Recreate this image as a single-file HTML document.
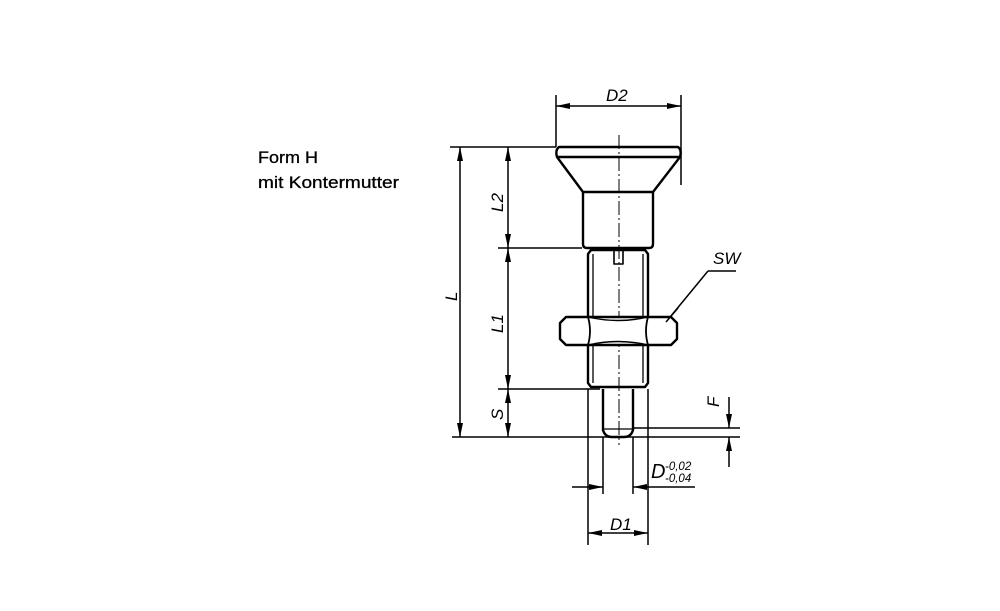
<!DOCTYPE html>
<html><head><meta charset="utf-8"><style>html,body{margin:0;padding:0;background:#fff}svg{display:block}</style></head>
<body>
<svg width="1000" height="611" viewBox="0 0 1000 611" xmlns="http://www.w3.org/2000/svg" font-family="Liberation Sans, sans-serif">
<defs>
<marker id="a" viewBox="0 0 14 7" refX="14" refY="3.5" markerWidth="14" markerHeight="7" markerUnits="userSpaceOnUse" orient="auto-start-reverse"><path d="M0,0.5 L14,3.5 L0,6.5z" fill="#000"/></marker>
</defs>
<text x="258" y="163" font-size="17" textLength="60" lengthAdjust="spacingAndGlyphs" stroke="#000" stroke-width="0.3">Form H</text>
<text x="258" y="188" font-size="17" textLength="141" lengthAdjust="spacingAndGlyphs" stroke="#000" stroke-width="0.3">mit Kontermutter</text>
<g stroke="#000" fill="none" stroke-width="1.5">
<line x1="556" y1="95" x2="556" y2="147"/>
<line x1="681" y1="95" x2="681" y2="185"/>
<line x1="450" y1="147" x2="556" y2="147"/>
<line x1="498" y1="248" x2="582" y2="248"/>
<line x1="498" y1="389" x2="600" y2="389"/>
<line x1="452" y1="437" x2="740" y2="437"/>
<line x1="633" y1="428" x2="740" y2="428"/>
<line x1="588" y1="389" x2="588" y2="545"/>
<line x1="648" y1="389" x2="648" y2="545"/>
<line x1="603" y1="437" x2="603" y2="494"/>
<line x1="633" y1="437" x2="633" y2="494"/>
<line x1="556" y1="106" x2="681" y2="106" marker-start="url(#a)" marker-end="url(#a)"/>
<line x1="460" y1="147" x2="460" y2="437" marker-start="url(#a)" marker-end="url(#a)"/>
<line x1="508" y1="147" x2="508" y2="248" marker-start="url(#a)" marker-end="url(#a)"/>
<line x1="508" y1="248" x2="508" y2="389" marker-start="url(#a)" marker-end="url(#a)"/>
<line x1="508" y1="389" x2="508" y2="437" marker-start="url(#a)" marker-end="url(#a)"/>
<line x1="729" y1="397" x2="729" y2="428" marker-end="url(#a)"/>
<line x1="729" y1="467" x2="729" y2="437" marker-end="url(#a)"/>
<line x1="572" y1="487" x2="603" y2="487" marker-end="url(#a)"/>
<line x1="695" y1="487" x2="633" y2="487" marker-end="url(#a)"/>
<line x1="588" y1="533" x2="648" y2="533" marker-start="url(#a)" marker-end="url(#a)"/>
<line x1="666" y1="322" x2="708" y2="271"/>
<line x1="708" y1="271" x2="736" y2="271"/>
<line x1="619" y1="135" x2="619" y2="445" stroke-width="1" stroke-dasharray="14,3,2,3"/>
</g>
<g stroke="#000" fill="none" stroke-width="2.4" stroke-linejoin="round">
<path d="M559,147 L678,147 Q682,150 680,157 L653,192 L583,192 L557,157 Q555,150 559,147z"/>
<line x1="557" y1="157" x2="680" y2="157"/>
<path d="M583,192 L583,244 Q583,248 587,248 L649,248 Q653,248 653,244 L653,192"/>
<path d="M591,250 L645,250 L648,254 L648,383 L645,387 L591,387 L588,383 L588,254z"/>
<line x1="593" y1="254" x2="593" y2="383" stroke-width="1.3"/>
<line x1="643" y1="254" x2="643" y2="383" stroke-width="1.3"/>
<path d="M614,250 L614,264 L623,264 L623,250" stroke-width="1.6"/>
<path d="M603,389 L603,430 Q605,437 612,437 L624,437 Q631,437 633,430 L633,389"/>
<line x1="604" y1="429" x2="632" y2="429" stroke-width="1.3"/>
<path d="M566,317 L671,317 L677,323 L677,339 L671,345 L566,345 L560,339 L560,323z" fill="#fff"/>
<path d="M588,317 Q592,331 588,345 M648,317 Q644,331 648,345" stroke-width="1.8"/>
<path d="M588,317 Q618,324 648,317 M588,345 Q618,338 648,345" stroke-width="1.4"/>
</g>
<line x1="666" y1="322" x2="678" y2="308" stroke="#000" stroke-width="1.5"/>
<g font-style="italic" font-size="17" fill="#000" font-weight="500">
<text x="606" y="101">D2</text>
<text x="713" y="264">SW</text>
<text x="610" y="530">D1</text>
<text x="651" y="478" font-size="20">D</text>
<text x="665" y="470" font-size="11.5">-0,02</text>
<text x="665" y="482" font-size="11.5">-0,04</text>
<text transform="translate(457,301) rotate(-90)">L</text>
<text transform="translate(503,212) rotate(-90)">L2</text>
<text transform="translate(503,333) rotate(-90)">L1</text>
<text transform="translate(503,420) rotate(-90)">S</text>
<text transform="translate(719,407) rotate(-90)">F</text>
</g>
</svg>
</body></html>
